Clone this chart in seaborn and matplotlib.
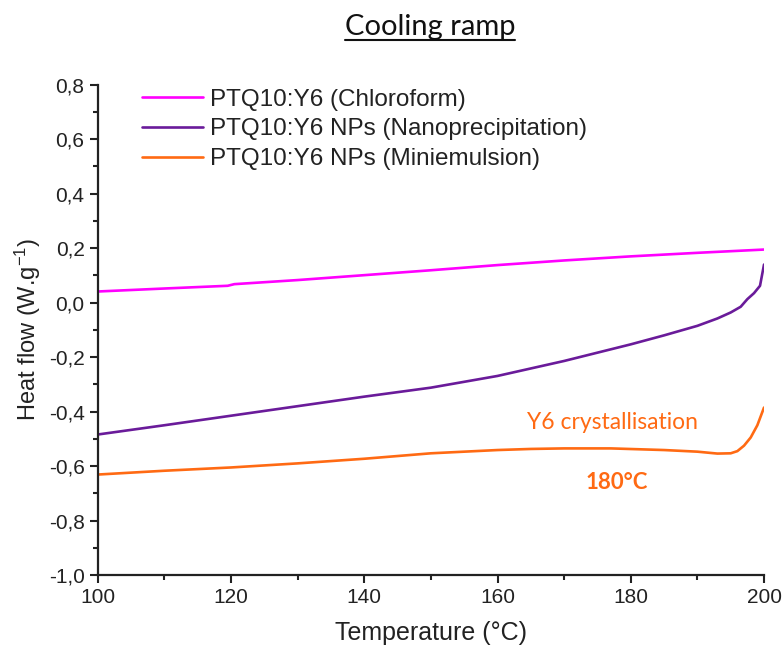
import pandas as pd
import seaborn as sns
import matplotlib.pyplot as plt
from matplotlib.ticker import MultipleLocator, FuncFormatter
from matplotlib.lines import Line2D

# Datos
temp_chloro = [100, 110, 119.5, 120.5, 130, 140, 150, 160, 170, 180, 190, 200]
flow_chloro = [0.041, 0.052, 0.062, 0.068, 0.083, 0.101, 0.119, 0.138, 0.155, 0.170, 0.183, 0.195]

temp_nano = [100, 110, 120, 130, 140, 150, 160, 170, 180, 185, 190, 193, 195, 196.5, 197.5, 198.5, 199.4, 200]
flow_nano = [-0.484, -0.450, -0.415, -0.380, -0.345, -0.312, -0.269, -0.214, -0.153, -0.120, -0.085, -0.058, -0.036, -0.015, 0.013, 0.035, 0.062, 0.140]

temp_mini = [100, 110, 120, 130, 140, 150, 160, 165, 170, 177, 185, 190, 193, 195, 196, 197, 198, 199, 200]
flow_mini = [-0.631, -0.617, -0.605, -0.590, -0.573, -0.553, -0.541, -0.537, -0.535, -0.535, -0.541, -0.547, -0.554, -0.553, -0.545, -0.525, -0.495, -0.450, -0.385]

labels = ['PTQ10:Y6 (Chloroform)', 'PTQ10:Y6 NPs (Nanoprecipitation)', 'PTQ10:Y6 NPs (Miniemulsion)']
colors = ['#FF00FF', '#6A1B9A', '#FF6A13']

df = pd.concat([
    pd.DataFrame({'T': temp_chloro, 'HF': flow_chloro, 'muestra': labels[0]}),
    pd.DataFrame({'T': temp_nano, 'HF': flow_nano, 'muestra': labels[1]}),
    pd.DataFrame({'T': temp_mini, 'HF': flow_mini, 'muestra': labels[2]}),
])

sns.set_style('ticks')
plt.rcParams['font.family'] = ['Liberation Sans', 'DejaVu Sans']
plt.rcParams['mathtext.default'] = 'regular'
text_color = '#222222'

fig = plt.figure(figsize=(7.82, 6.52), dpi=100)
ax = fig.add_axes([0.125, 0.118, 0.852, 0.752])

sns.lineplot(data=df, x='T', y='HF', hue='muestra', palette=dict(zip(labels, colors)),
             hue_order=labels, linewidth=1.9, ax=ax, sort=False)

ax.set_xlim(100, 200)
ax.set_ylim(-1.0, 0.8)
ax.xaxis.set_major_locator(MultipleLocator(20))
ax.xaxis.set_minor_locator(MultipleLocator(10))
ax.yaxis.set_major_locator(MultipleLocator(0.2))
ax.yaxis.set_minor_locator(MultipleLocator(0.1))
ax.yaxis.set_major_formatter(FuncFormatter(lambda v, p: f"{v:.1f}".replace('.', ',').replace('-0,0', '0,0')))

ax.tick_params(which='major', direction='out', length=6, width=1.5, color=text_color,
               labelsize=15, labelcolor=text_color)
ax.tick_params(which='minor', direction='out', length=3.5, width=1.5, color=text_color)
for s in ['top', 'right']:
    ax.spines[s].set_visible(False)
for s in ['left', 'bottom']:
    ax.spines[s].set_linewidth(1.6)
    ax.spines[s].set_color(text_color)

ax.set_xlabel('Temperature (°C)', fontsize=18, color=text_color, labelpad=10)
ax.set_ylabel('Heat flow (W.g$^{-1}$)', fontsize=17, color=text_color, labelpad=4)

leg = ax.legend(loc='upper left', bbox_to_anchor=(0.045, 1.022), frameon=False, fontsize=17.5,
                handlelength=2.5, handletextpad=0.3, labelspacing=0.32, borderaxespad=0.2)
for t in leg.get_texts():
    t.set_color(text_color)

# Anotaciones
ax.text(177.3, -0.44, 'Y6 crystallisation', color='#FF6A13', fontsize=16.5,
        family=['Lato', 'DejaVu Sans'], ha='center', va='center')
ax.text(177.9, -0.66, '180°C', color='#FF6A13', fontsize=16, fontweight='bold',
        family=['Lato', 'DejaVu Sans'], ha='center', va='center')

# Título subrayado
title = fig.text(0.55, 0.958, 'Cooling ramp', fontsize=21, family=['Lato', 'DejaVu Sans'],
                 color='#111111', ha='center', va='center')
fig.canvas.draw()
bb = title.get_window_extent().transformed(fig.transFigure.inverted())
fig.add_artist(Line2D([bb.x0, bb.x1], [bb.y0 + 0.001, bb.y0 + 0.001], color='#111111',
                      linewidth=1.5, transform=fig.transFigure))

plt.savefig('out.png', dpi=100)
plt.close()
